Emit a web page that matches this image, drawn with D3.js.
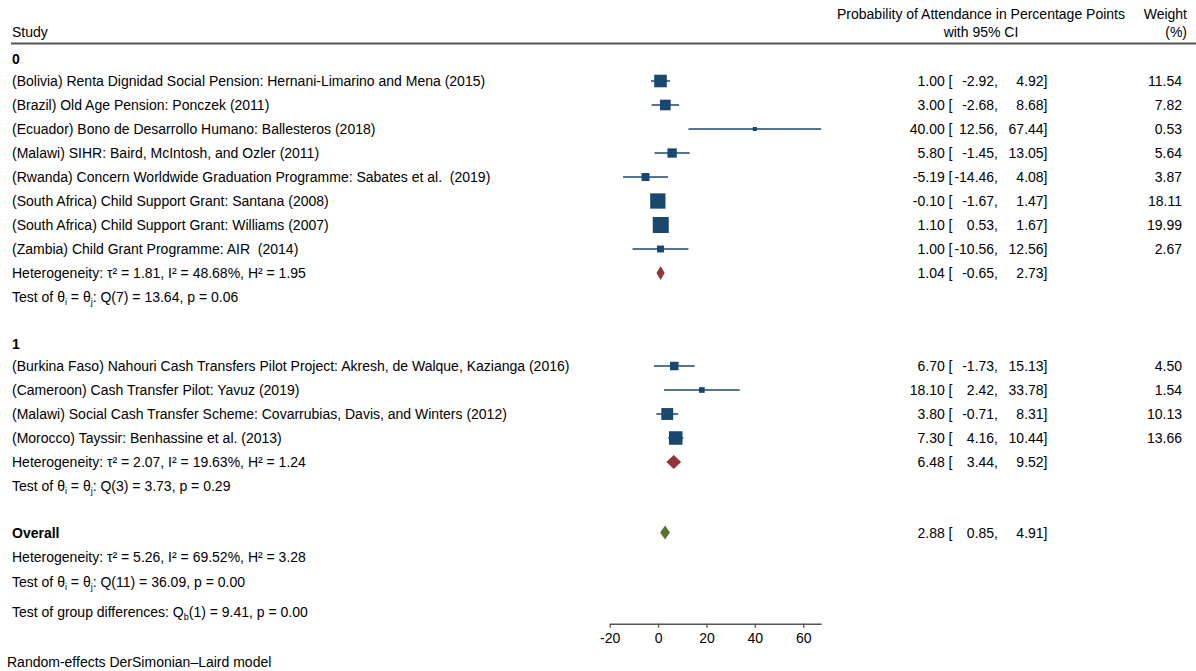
<!DOCTYPE html>
<html>
<head>
<meta charset="utf-8">
<title>Forest plot</title>
<script src="https://cdn.jsdelivr.net/npm/d3@7"></script>
<style>
  body { margin: 0; background: #fff; }
  svg text { font-family: "Liberation Sans", Arial, Helvetica, sans-serif; font-size: 14px; fill: #000; white-space: pre; }
</style>
</head>
<body>
<div id="forest"></div>
<script>
// study level results
var studies = [
  "(Bolivia) Renta Dignidad Social Pension: Hernani-Limarino and Mena (2015)",
  "(Brazil) Old Age Pension: Ponczek (2011)",
  "(Ecuador) Bono de Desarrollo Humano: Ballesteros (2018)",
  "(Malawi) SIHR: Baird, McIntosh, and Ozler (2011)",
  "(Rwanda) Concern Worldwide Graduation Programme: Sabates et al.  (2019)",
  "(South Africa) Child Support Grant: Santana (2008)",
  "(South Africa) Child Support Grant: Williams (2007)",
  "(Zambia) Child Grant Programme: AIR  (2014)",
  "(Burkina Faso) Nahouri Cash Transfers Pilot Project: Akresh, de Walque, Kazianga (2016)",
  "(Cameroon) Cash Transfer Pilot: Yavuz (2019)",
  "(Malawi) Social Cash Transfer Scheme: Covarrubias, Davis, and Winters (2012)",
  "(Morocco) Tayssir: Benhassine et al. (2013)"
];
var group    = [0, 0, 0, 0, 0, 0, 0, 0, 1, 1, 1, 1];
var estimate = [1.00, 3.00, 40.00, 5.80, -5.19, -0.10, 1.10, 1.00, 6.70, 18.10, 3.80, 7.30];
var ciLow    = [-2.92, -2.68, 12.56, -1.45, -14.46, -1.67, 0.53, -10.56, -1.73, 2.42, -0.71, 4.16];
var ciHigh   = [4.92, 8.68, 67.44, 13.05, 4.08, 1.47, 1.67, 12.56, 15.13, 33.78, 8.31, 10.44];
var weight   = [11.54, 7.82, 0.53, 5.64, 3.87, 18.11, 19.99, 2.67, 4.50, 1.54, 10.13, 13.66];

// subgroup results
var groupNames    = ["0", "1"];
var groupEstimate = [1.04, 6.48];
var groupLow      = [-0.65, 3.44];
var groupHigh     = [2.73, 9.52];
var groupTau2     = [1.81, 2.07];
var groupI2       = [48.68, 19.63];
var groupH2       = [1.95, 1.24];
var groupDf       = [7, 3];
var groupQ        = [13.64, 3.73];
var groupP        = [0.06, 0.29];

// overall results
var overallCI   = [2.88, 0.85, 4.91];   // estimate, low, high
var overallHet  = [5.26, 69.52, 3.28];  // tau2, I2, H2
var overallTest = [11, 36.09, 0.00];    // df, Q, p
var groupDiff   = [1, 9.41, 0.00];      // df, Qb, p

var xTicks = [-20, 0, 20, 40, 60];

var W = 1196, H = 671;
var navy = "#1a476f", cranberry = "#90353b", olive = "#55752f";

// plain hyphen for negatives, like the original output
var locale = d3.formatLocale({decimal: ".", thousands: ",", grouping: [3], currency: ["$", ""], minus: "-"});
var f2 = locale.format(".2f");
var f0 = locale.format("d");

var svg = d3.select("#forest").append("svg")
    .attr("width", W)
    .attr("height", H);

// x scale for the effect sizes
var x = d3.scaleLinear()
    .domain([-20, d3.max(ciHigh)])
    .range([609.7, 821.2]);

// square side from weight
var side = d3.scaleSqrt()
    .domain([0, 20])
    .range([1.7, 16]);

// row layout
var studyTop = [81, 366];
var step = 24;
var rows = [];
groupNames.forEach(function(g, gi) {
  rows.push({type: "group", g: gi, y: studyTop[gi] - 22.5});
  var idx = d3.range(studies.length).filter(function(i) { return group[i] === gi; });
  idx.forEach(function(i, k) {
    rows.push({type: "study", i: i, y: studyTop[gi] + k * step});
  });
  var last = studyTop[gi] + (idx.length - 1) * step;
  rows.push({type: "het", g: gi, y: last + step});
  rows.push({type: "test", g: gi, y: last + 2 * step});
});
var overallY = 532.5;

// header
svg.append("text").attr("x", 12).attr("y", 37).text("Study");
svg.append("text").attr("x", 981).attr("y", 19).attr("text-anchor", "middle")
    .text("Probability of Attendance in Percentage Points");
svg.append("text").attr("x", 981).attr("y", 37).attr("text-anchor", "middle")
    .text("with 95% CI");
svg.append("text").attr("x", 1187).attr("y", 19).attr("text-anchor", "end").text("Weight");
svg.append("text").attr("x", 1187).attr("y", 37).attr("text-anchor", "end").text("(%)");
svg.append("line")
    .attr("x1", 11).attr("x2", W)
    .attr("y1", 43.5).attr("y2", 43.5)
    .attr("stroke", "#555").attr("stroke-width", 1.8);

// writes text with small subscripts: parts = [[string, isSub], ...]
function rich(sel, parts) {
  var shifted = false;
  parts.forEach(function(p) {
    var t = sel.append("tspan").text(p[0]);
    if (p[1] && !shifted) { t.attr("dy", 3).style("font-size", "9px"); shifted = true; }
    else if (!p[1] && shifted) { t.attr("dy", -3); shifted = false; }
    else if (p[1]) { t.style("font-size", "9px"); }
  });
}

function ciColumns(y, est, lo, hi) {
  svg.append("text").attr("x", 952.5).attr("y", y + 5).attr("text-anchor", "end").text(f2(est) + " [");
  svg.append("text").attr("x", 998).attr("y", y + 5).attr("text-anchor", "end").text(f2(lo) + ",");
  svg.append("text").attr("x", 1047.5).attr("y", y + 5).attr("text-anchor", "end").text(f2(hi) + "]");
}

function diamond(y, est, lo, hi, color) {
  svg.append("path")
      .attr("d", "M" + x(lo) + "," + y + "L" + x(est) + "," + (y - 7) +
                 "L" + x(hi) + "," + y + "L" + x(est) + "," + (y + 7) + "Z")
      .attr("fill", color);
}

function hetText(y, tau2, i2, h2) {
  svg.append("text").attr("x", 12).attr("y", y + 5)
      .text("Heterogeneity: \u03c4\u00b2 = " + f2(tau2) + ", I\u00b2 = " + f2(i2) + "%, H\u00b2 = " + f2(h2));
}

function testText(y, df, q, p) {
  rich(svg.append("text").attr("x", 12).attr("y", y + 5), [
    ["Test of \u03b8", false], ["i", true], [" = \u03b8", false], ["j", true],
    [": Q(" + df + ") = " + f2(q) + ", p = " + f2(p), false]
  ]);
}

rows.forEach(function(r) {
  if (r.type === "group") {
    svg.append("text").attr("x", 12).attr("y", r.y + 5)
        .style("font-weight", "bold").text(groupNames[r.g]);
  } else if (r.type === "study") {
    var i = r.i;
    svg.append("text").attr("x", 12).attr("y", r.y + 5).text(studies[i]);
    svg.append("line")
        .attr("x1", x(ciLow[i])).attr("x2", x(ciHigh[i]))
        .attr("y1", r.y).attr("y2", r.y)
        .attr("stroke", navy).attr("stroke-width", 1.5);
    var s = side(weight[i]);
    svg.append("rect")
        .attr("x", x(estimate[i]) - s / 2).attr("y", r.y - s / 2)
        .attr("width", s).attr("height", s)
        .attr("fill", navy);
    ciColumns(r.y, estimate[i], ciLow[i], ciHigh[i]);
    svg.append("text").attr("x", 1182).attr("y", r.y + 5).attr("text-anchor", "end").text(f2(weight[i]));
  } else if (r.type === "het") {
    hetText(r.y, groupTau2[r.g], groupI2[r.g], groupH2[r.g]);
    diamond(r.y, groupEstimate[r.g], groupLow[r.g], groupHigh[r.g], cranberry);
    ciColumns(r.y, groupEstimate[r.g], groupLow[r.g], groupHigh[r.g]);
  } else {
    testText(r.y, groupDf[r.g], groupQ[r.g], groupP[r.g]);
  }
});

// overall
svg.append("text").attr("x", 12).attr("y", overallY + 5).style("font-weight", "bold").text("Overall");
diamond(overallY, overallCI[0], overallCI[1], overallCI[2], olive);
ciColumns(overallY, overallCI[0], overallCI[1], overallCI[2]);
hetText(557, overallHet[0], overallHet[1], overallHet[2]);
testText(581.5, overallTest[0], overallTest[1], overallTest[2]);
rich(svg.append("text").attr("x", 12).attr("y", 617), [
  ["Test of group differences: Q", false], ["b", true],
  ["(" + groupDiff[0] + ") = " + f2(groupDiff[1]) + ", p = " + f2(groupDiff[2]), false]
]);

// x axis
var axis = svg.append("g")
    .attr("transform", "translate(0,623.7)")
    .call(d3.axisBottom(x).tickValues(xTicks).tickFormat(f0)
      .tickSize(4).tickPadding(5).tickSizeOuter(0));
axis.select(".domain").attr("stroke", "#555").attr("stroke-width", 1.5);
axis.selectAll(".tick line").attr("stroke", "#555").attr("stroke-width", 1.3);
axis.selectAll(".tick text")
    .style("font-size", "14px")
    .style("font-family", "\"Liberation Sans\", Arial, Helvetica, sans-serif")
    .attr("fill", "#000");

svg.append("text").attr("x", 7).attr("y", 666.5).text("Random-effects DerSimonian\u2013Laird model");
</script>
</body>
</html>
